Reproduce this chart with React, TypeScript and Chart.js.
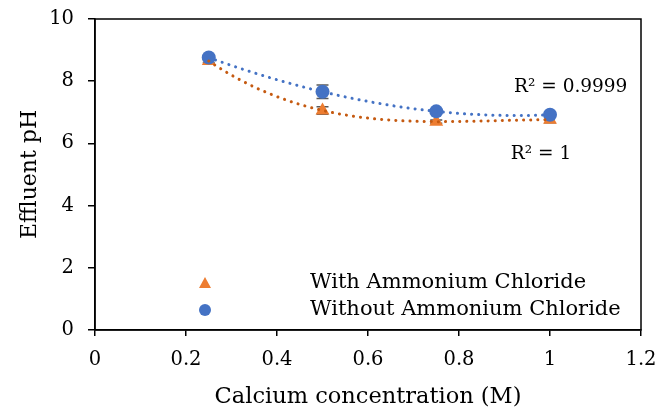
import React, { useEffect, useRef } from "react";
import { Chart, registerables } from "chart.js";

Chart.register(...registerables);

const concentrations = [0.25, 0.5, 0.75, 1.0];
const withNH4Cl = [8.65, 7.06, 6.7, 6.76];
const withErr = [0.05, 0.12, 0.05, 0.1];
const withoutNH4Cl = [8.76, 7.66, 7.03, 6.92];
const withoutErr = [0.05, 0.22, 0.05, 0.08];
const seriesNames = ["With Ammonium Chloride", "Without Ammonium Chloride"];
const r2Labels = ["R² = 1", "R² = 0.9999"];
const xTicks = [0, 0.2, 0.4, 0.6, 0.8, 1, 1.2];
const yTicks = [0, 2, 4, 6, 8, 10];

const FONT = "'DejaVu Serif', serif";
const ORANGE = "#ED7D31";
const ORANGE_DARK = "#C55A11";
const BLUE = "#4472C4";

function polyFit(xs: number[], ys: number[], order: number) {
  const n = order + 1;
  const M: number[][] = [];
  for (let r = 0; r < n; r++) {
    const row: number[] = [];
    for (let c = 0; c < n; c++) {
      let s = 0;
      for (let i = 0; i < xs.length; i++) s += Math.pow(xs[i], r + c);
      row.push(s);
    }
    let t = 0;
    for (let i = 0; i < xs.length; i++) t += Math.pow(xs[i], r) * ys[i];
    row.push(t);
    M.push(row);
  }
  for (let i = 0; i < n; i++) {
    let p = i;
    for (let k = i + 1; k < n; k++) if (Math.abs(M[k][i]) > Math.abs(M[p][i])) p = k;
    [M[i], M[p]] = [M[p], M[i]];
    for (let k = i + 1; k < n; k++) {
      const f = M[k][i] / M[i][i];
      for (let j = i; j <= n; j++) M[k][j] -= f * M[i][j];
    }
  }
  const coef = new Array(n).fill(0);
  for (let i = n - 1; i >= 0; i--) {
    let s = M[i][n];
    for (let j = i + 1; j < n; j++) s -= M[i][j] * coef[j];
    coef[i] = s / M[i][i];
  }
  return (x: number) => coef.reduce((acc, c, k) => acc + c * Math.pow(x, k), 0);
}

function trendPoints(xs: number[], ys: number[]) {
  const f = polyFit(xs, ys, 3);
  const pts: { x: number; y: number }[] = [];
  const x0 = xs[0], x1 = xs[xs.length - 1];
  const n = 60;
  for (let i = 0; i <= n; i++) {
    const x = x0 + ((x1 - x0) * i) / n;
    pts.push({ x, y: f(x) });
  }
  return pts;
}

export default function App() {
  const ref = useRef<HTMLCanvasElement>(null);
  useEffect(() => {
    document.body.style.margin = "0";
    const canvas = ref.current!;
    const errorBars = {
      id: "errorBars",
      beforeDatasetsDraw(chart: any) {
        const { ctx, scales } = chart;
        const xs = scales.x, ys = scales.y;
        ctx.save();
        ctx.strokeStyle = "#595959";
        ctx.lineWidth = 1.5;
        const draw = (vals: number[], errs: number[]) => {
          vals.forEach((v, i) => {
            const px = xs.getPixelForValue(concentrations[i]);
            const top = ys.getPixelForValue(v + errs[i]);
            const bot = ys.getPixelForValue(v - errs[i]);
            ctx.beginPath();
            ctx.moveTo(px, top); ctx.lineTo(px, bot);
            ctx.moveTo(px - 6, top); ctx.lineTo(px + 6, top);
            ctx.moveTo(px - 6, bot); ctx.lineTo(px + 6, bot);
            ctx.stroke();
          });
        };
        draw(withNH4Cl, withErr);
        draw(withoutNH4Cl, withoutErr);
        ctx.restore();
      },
      afterDraw(chart: any) {
        const { ctx, chartArea, scales } = chart;
        ctx.save();
        ctx.strokeStyle = "#000";
        ctx.lineWidth = 1.5;
        ctx.strokeRect(chartArea.left, chartArea.top, chartArea.right - chartArea.left, chartArea.bottom - chartArea.top);
        // R² labels
        ctx.fillStyle = "#000";
        ctx.font = "18.5px " + FONT;
        ctx.textBaseline = "middle";
        ctx.textAlign = "left";
        ctx.fillText(r2Labels[1], scales.x.getPixelForValue(0.921), scales.y.getPixelForValue(7.81));
        ctx.fillText(r2Labels[0], scales.x.getPixelForValue(0.914), scales.y.getPixelForValue(5.65));
        // legend
        const lx = 205;
        const rows = [283, 310];
        ctx.fillStyle = ORANGE;
        ctx.beginPath();
        ctx.moveTo(lx, rows[0] - 6);
        ctx.lineTo(lx + 6, rows[0] + 5);
        ctx.lineTo(lx - 6, rows[0] + 5);
        ctx.closePath();
        ctx.fill();
        ctx.fillStyle = BLUE;
        ctx.beginPath();
        ctx.arc(lx, rows[1], 6, 0, Math.PI * 2);
        ctx.fill();
        ctx.fillStyle = "#000";
        ctx.font = "21px " + FONT;
        ctx.fillText(seriesNames[0], 310, rows[0]);
        ctx.fillText(seriesNames[1], 310, rows[1]);
        ctx.restore();
      },
    };

    const chart = new Chart(canvas, {
      type: "scatter",
      data: {
        datasets: [
          {
            type: "line",
            label: "trend without",
            data: trendPoints(concentrations, withoutNH4Cl),
            borderColor: BLUE,
            borderWidth: 3,
            borderDash: [0.1, 7],
            borderCapStyle: "round",
            pointRadius: 0,
            fill: false,
            order: 0,
          } as any,
          {
            type: "line",
            label: "trend with",
            data: trendPoints(concentrations, withNH4Cl),
            borderColor: ORANGE_DARK,
            borderWidth: 3,
            borderDash: [0.1, 7],
            borderCapStyle: "round",
            pointRadius: 0,
            fill: false,
            order: 0,
          } as any,
          {
            label: seriesNames[1],
            data: concentrations.map((x, i) => ({ x, y: withoutNH4Cl[i] })),
            pointStyle: "circle",
            pointRadius: 7,
            backgroundColor: BLUE,
            borderColor: BLUE,
            borderWidth: 0,
            order: 1,
          },
          {
            label: seriesNames[0],
            data: concentrations.map((x, i) => ({ x, y: withNH4Cl[i] })),
            pointStyle: "triangle",
            pointRadius: 8,
            backgroundColor: ORANGE,
            borderColor: ORANGE,
            borderWidth: 0,
            order: 2,
          },
        ],
      },
      options: {
        responsive: false,
        animation: false,
        layout: { padding: { top: 19, right: 15, left: 0, bottom: 0 } },
        plugins: { legend: { display: false }, tooltip: { enabled: false } },
        scales: {
          x: {
            type: "linear",
            min: 0,
            max: 1.2,
            afterBuildTicks: (s: any) => { s.ticks = xTicks.map((v) => ({ value: v })); },
            afterFit: (s: any) => { s.height = 82; s.paddingLeft = 0; s.paddingRight = 0; },
            ticks: {
              color: "#000",
              font: { family: FONT, size: 19.5 },
              padding: 12,
              maxRotation: 0,
              callback: (v: any) => String(v),
            },
            grid: { drawOnChartArea: false, drawTicks: true, tickLength: 6, color: "#000", lineWidth: 1.5 },
            border: { display: true, color: "#000", width: 1.5 },
            title: {
              display: true,
              text: "Calcium concentration (M)",
              color: "#000",
              font: { family: FONT, size: 22.5 },
              padding: { top: 2, bottom: 1 },
            },
          },
          y: {
            type: "linear",
            min: 0,
            max: 10,
            afterBuildTicks: (s: any) => { s.ticks = yTicks.map((v) => ({ value: v })); },
            afterFit: (s: any) => { s.width = 95; s.paddingTop = 0; s.paddingBottom = 0; },
            ticks: {
              color: "#000",
              font: { family: FONT, size: 19.5 },
              padding: 14,
              callback: (v: any) => String(v),
            },
            grid: { drawOnChartArea: false, drawTicks: true, tickLength: 7, color: "#000", lineWidth: 1.5 },
            border: { display: true, color: "#000", width: 1.5 },
            title: {
              display: true,
              text: "Effluent pH",
              color: "#000",
              font: { family: FONT, size: 22 },
              padding: { top: 17, bottom: 4 },
            },
          },
        },
      } as any,
      plugins: [errorBars],
    });
    return () => chart.destroy();
  }, []);
  return (
    <div style={{ position: "absolute", left: 0, top: 0, width: 656, height: 412, background: "#fff" }}>
      <canvas ref={ref} width={656} height={412} style={{ width: 656, height: 412, display: "block" }} />
    </div>
  );
}
